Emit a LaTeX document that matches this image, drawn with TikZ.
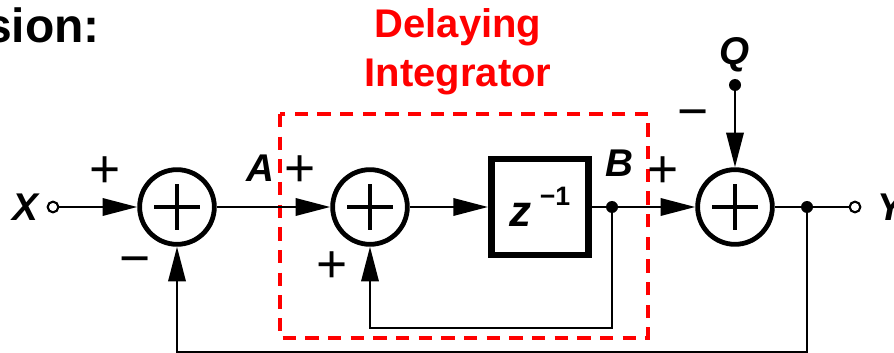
\documentclass[tikz,border=0pt]{standalone}
\usepackage{fontspec}
\setmainfont{Liberation Sans}
\usetikzlibrary{arrows.meta}
\begin{document}
\begin{tikzpicture}[x=0.75pt,y=-0.75pt]
  \tikzstyle{wire}=[line width=1.8pt]
  \tikzstyle{sig}=[wire,-{Triangle[length=26pt,width=13pt]}]
  \tikzstyle{adder}=[circle,draw,line width=3.6pt,minimum size=56pt,inner sep=0pt,
    path picture={\draw[line width=3.6pt] ([xshift=-17pt]path picture bounding box.center) -- ++(34pt,0)
      ([yshift=-17pt]path picture bounding box.center) -- ++(0,34pt);}]
  \tikzstyle{delaybox}=[draw,line width=5pt,minimum width=73pt,minimum height=72pt,inner sep=0pt]
  \tikzstyle{dot}=[circle,fill,inner sep=0pt,minimum size=9pt]
  \tikzstyle{port}=[circle,draw,fill=white,line width=1.6pt,inner sep=0pt,minimum size=8pt]
  \tikzstyle{lbl}=[font=\fontsize{29}{29}\selectfont\bfseries\itshape,inner sep=0pt]
  \tikzstyle{sgn}=[font=\fontsize{40}{40}\selectfont,inner sep=0pt]
  \useasboundingbox (0,0) rectangle (894,353);
  % title fragment and block label
  \node[font=\fontsize{36}{36}\selectfont\bfseries,inner sep=0pt,anchor=base east] (title) at (100,43) {sion:};
  \node[font=\fontsize{30}{37}\selectfont\bfseries,text=red,align=center,inner sep=0pt] (dlabel) at (458,52) {Delaying\\Integrator};
  % delaying integrator frame
  \draw[red,line width=3pt,dash pattern=on 10pt off 7pt] (280,114) rectangle (648,338);
  % blocks
  \node[port] (xin) at (53,207) {};
  \node[lbl] (xlabel) at (25,207) {X};
  \node[adder] (sum1) at (177,207) {};
  \node[adder] (sum2) at (370,207) {};
  \node[delaybox] (delay) at (540,207) {{\bfseries\itshape\fontsize{33}{33}\selectfont z}\hspace{6pt}\raisebox{16pt}{\bfseries\fontsize{20}{20}\selectfont −1}};
  \node[dot] (bdot) at (612,207) {};
  \node[adder] (sum3) at (735,207) {};
  \node[dot] (qdot) at (735,85) {};
  \node[dot] (outdot) at (807,207) {};
  \node[port] (yout) at (855,207) {};
  \coordinate (fb2) at (370,328);
  \coordinate (fb1) at (177,352);
  % labels
  \node[lbl] (alabel) at (260,168) {A};
  \node[lbl] (blabel) at (619,163) {B};
  \node[lbl] (qlabel) at (735,55) {Q};
  \node[lbl] (ylabel) at (890,207) {Y};
  \node[sgn] (p1) at (105,172) {+};
  \node[sgn] (m1) at (135,267) {−};
  \node[sgn] (p2) at (300,171) {+};
  \node[sgn] (p3) at (332,267) {+};
  \node[sgn] (p4) at (663,172) {+};
  \node[sgn] (m2) at (693,120) {−};
  % signal paths
  \draw[sig] (xin) -- (sum1);
  \draw[sig] (sum1) -- (sum2);
  \draw[sig] (sum2) -- (delay);
  \draw[wire] (delay) -- (bdot);
  \draw[sig] (bdot) -- (sum3);
  \draw[sig] (qdot) -- (sum3);
  \draw[wire] (sum3) -- (outdot) -- (yout);
  \draw[sig] (bdot) |- (fb2) -- (sum2);
  \draw[sig] (outdot) |- (fb1) -- (sum1);
\end{tikzpicture}
\end{document}
